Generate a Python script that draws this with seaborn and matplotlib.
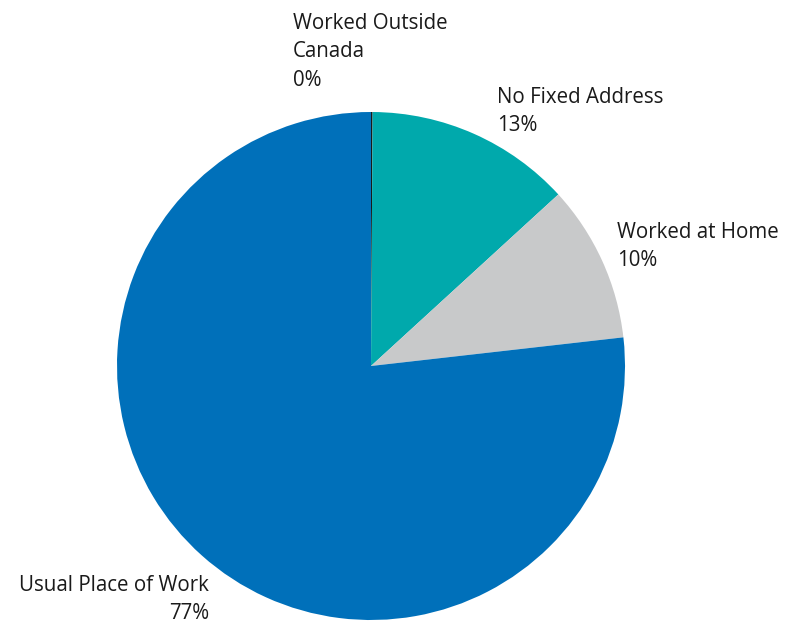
import matplotlib.pyplot as plt
import seaborn as sns

labels = ["Worked Outside\nCanada", "No Fixed Address", "Worked at Home", "Usual Place of Work"]
shares = [0.1, 13.1, 10.0, 76.8]
pct_labels = ["0%", "13%", "10%", "77%"]

colors = ["#1a1a1a", "#00A9AC", "#C8C9CA", "#0070BA"]
# label anchor in pixel coords (x, y from top), alignment
label_pos = [(293, 13, "left"), (497, 87, "left"), (617, 222, "left"), (209, 575, "right")]

sns.set_style("white")
plt.rcParams["font.family"] = ["Open Sans", "DejaVu Sans"]

fig = plt.figure(figsize=(7.86, 6.24), dpi=100)
ax = fig.add_axes([0, 0, 1, 1])

ax.pie(shares, colors=colors, startangle=90, counterclock=False,
       center=(371, 624 - 366), radius=254,
       wedgeprops=dict(linewidth=0))

ax.set_xlim(0, 786)
ax.set_ylim(0, 624)
ax.set_aspect("equal")
ax.axis("off")

for lab, pct, (px, py, ha) in zip(labels, pct_labels, label_pos):
    ax.text(px, 624 - py, f"{lab}\n{pct}", ha=ha, va="top", multialignment=ha,
            fontsize=14.8, color="#1a1a1a", linespacing=1.46)

fig.savefig("out.png", dpi=100)
